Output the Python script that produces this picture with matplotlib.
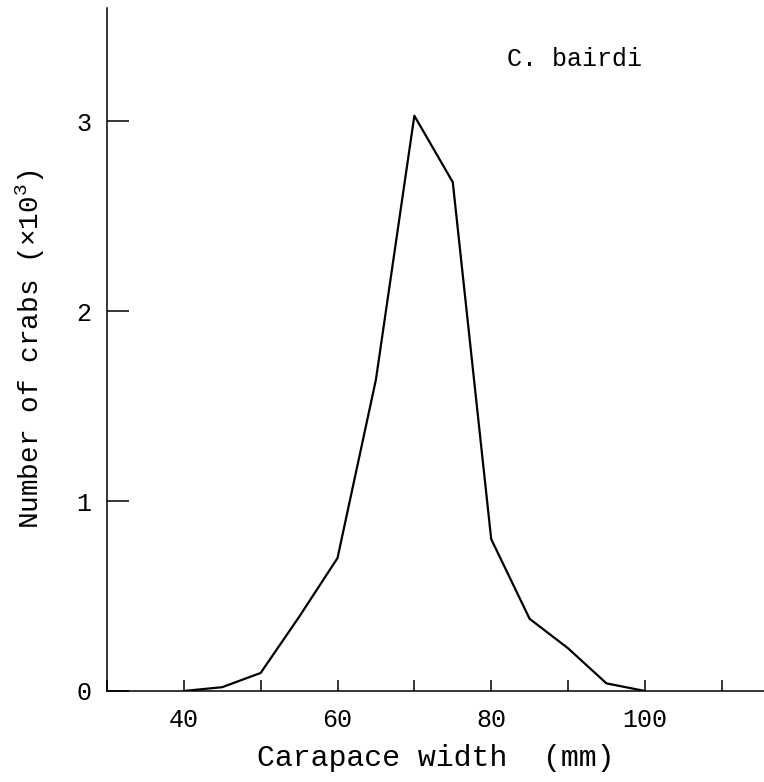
import matplotlib
matplotlib.use("Agg")
import matplotlib.pyplot as plt
from matplotlib.ticker import MultipleLocator

plt.rcParams['font.family'] = ['Liberation Mono', 'DejaVu Sans Mono']
plt.rcParams['mathtext.fontset'] = 'custom'
plt.rcParams['mathtext.rm'] = 'Liberation Mono'

width_mm = [40, 45, 50, 55, 60, 65, 70, 75, 80, 85, 90, 95, 100]
crabs_k = [0.0, 0.02, 0.095, 0.39, 0.70, 1.64, 3.03, 2.68, 0.80, 0.38, 0.225, 0.04, 0.0]

x_ticks = [40, 60, 80, 100]
y_ticks = [0, 1, 2, 3]

fig = plt.figure(figsize=(7.64, 7.82), dpi=100)
ax = fig.add_axes([0.140, 0.1164, 0.860, 0.8740])

ax.plot(width_mm, crabs_k, color='black', lw=1.6)

ax.set_xlim(30, 115.5)
ax.set_ylim(0, 3.6)
ax.set_xticks(x_ticks)
ax.xaxis.set_minor_locator(MultipleLocator(10))
ax.set_yticks(y_ticks)

for s in ['top', 'right']:
    ax.spines[s].set_visible(False)
for s in ['left', 'bottom']:
    ax.spines[s].set_linewidth(1.1)

ax.tick_params(axis='x', which='both', direction='in', length=8, width=1.1,
               pad=12, labelsize=18)
ax.tick_params(axis='y', direction='in', length=16, width=1.1,
               pad=11, labelsize=18)

ax.set_xlabel('Carapace width  (mm)', fontsize=21.5, labelpad=9)
ax.set_ylabel(r'Number of crabs (×10$^3$)', fontsize=20)
ax.yaxis.set_label_coords(-0.092, 0.5)

ax.text(82.1, 3.33, 'C. bairdi', fontsize=18, ha='left', va='center')

fig.savefig('out.png', dpi=100)
